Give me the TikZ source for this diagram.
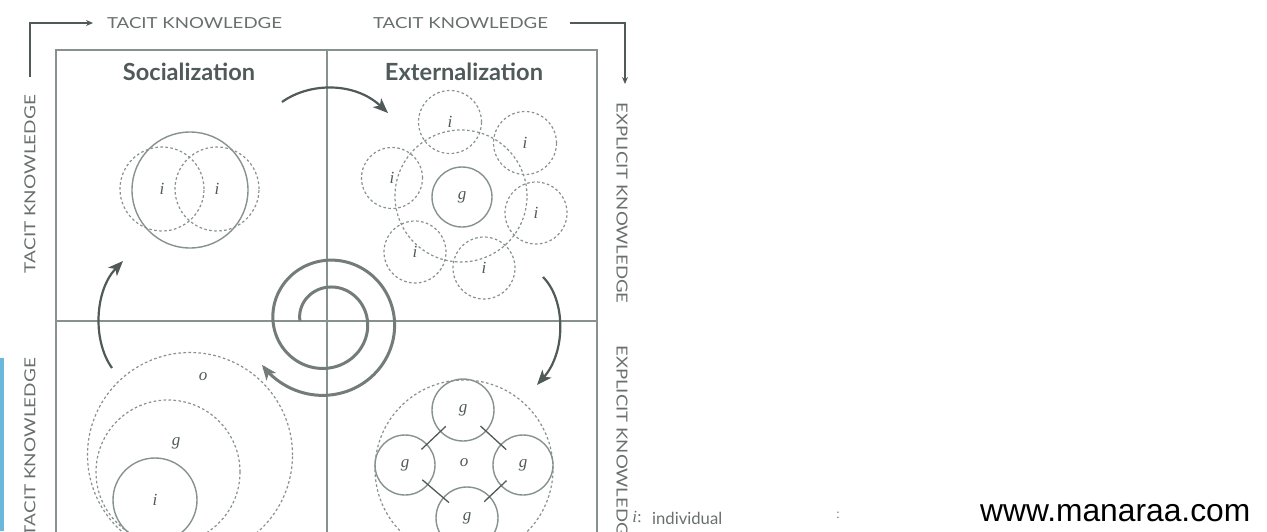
\documentclass[tikz,border=0pt]{standalone}
\usepackage{fontspec}
\newfontfamily\lato{Lato}
\newfontfamily\arialf{Liberation Sans}
\newfontfamily\serifl{Liberation Serif}
\usetikzlibrary{arrows.meta}
\definecolor{ln}{RGB}{135,146,143}
\definecolor{dk}{RGB}{80,90,88}
\definecolor{tx}{RGB}{105,111,110}
\definecolor{blu}{RGB}{108,184,220}
\begin{document}
\begin{tikzpicture}[x=1pt,y=-1pt,
  frame/.style={draw=ln, line width=1.4pt},
  bracket/.style={draw=dk, line width=1.7pt, -{Stealth[length=7pt,width=6pt]}},
  flow/.style={draw=dk, line width=2.2pt, -{Stealth[length=15pt,width=12pt,inset=4pt]}},
  lfont/.style={font=\serifl\fontsize{17}{17}\selectfont\itshape, text=dk},
  dcirc/.style={circle, draw=ln, line width=1.2pt, dash pattern=on 2.6pt off 2.4pt, inner sep=0pt, lfont},
  scirc/.style={circle, draw=ln, line width=1.4pt, inner sep=0pt, lfont},
  lab/.style={inner sep=0pt, lfont},
  axis/.style={inner sep=0pt, font=\lato, text=tx},
  head/.style={inner sep=0pt, font=\lato\bfseries, text=dk},
  link/.style={draw=dk, line width=1.3pt, shorten <=-8pt, shorten >=-8pt}
]
\useasboundingbox (0,0) rectangle (1267,531);
\fill[white] (0,0) rectangle (1267,531);
% blue bar
\fill[blu] (0,358) rectangle (4,531);

% frame
\draw[frame] (56,540) -- (56,50) -- (597,50) -- (597,540);
\draw[frame] (327,50) -- (327,540);
\draw[frame] (56,321) -- (597,321);

% outer labels
\node[axis] (tl) at (194.5,23) {\resizebox{175pt}{11pt}{TACIT KNOWLEDGE}};
\node[axis] (tr) at (460.5,23) {\resizebox{175pt}{11pt}{TACIT KNOWLEDGE}};
\node[axis, rotate=90] (l1) at (30,184) {\resizebox{178pt}{11pt}{TACIT KNOWLEDGE}};
\node[axis, rotate=90] (l2) at (30,447) {\resizebox{178pt}{11pt}{TACIT KNOWLEDGE}};
\node[axis, rotate=-90] (r1) at (622,203) {\resizebox{201pt}{11pt}{EXPLICIT KNOWLEDGE}};
\node[axis, rotate=-90] (r2) at (622,446) {\resizebox{201pt}{11pt}{EXPLICIT KNOWLEDGE}};

% brackets
\coordinate (b1) at (30,77);
\coordinate (b1c) at (30,23);
\coordinate (b1e) at (93,23);
\draw[bracket] (b1) -- (b1c) -- (b1e);
\coordinate (b2) at (570,23);
\coordinate (b2c) at (625,23);
\coordinate (b2e) at (625,84);
\draw[bracket] (b2) -- (b2c) -- (b2e);

% headings
\node[head] (soc) at (189,72) {\resizebox{132pt}{!}{Socialization}};
\node[head] (ext) at (464,72) {\resizebox{158pt}{!}{Externalization}};

% Socialization circles
\node[scirc, minimum size=116pt] (sg) at (190,190) {};
\node[dcirc, minimum size=84pt] (s1) at (162,189) {i};
\node[dcirc, minimum size=84pt] (s2) at (217,189) {i};

% Externalization circles
\node[dcirc, minimum size=132pt] (eg) at (461,196) {};
\node[scirc, minimum size=60pt] (eg0) at (462,197) {g};
\node[dcirc, minimum size=63pt] (e1) at (450,122) {i};
\node[dcirc, minimum size=63pt] (e2) at (525,143) {i};
\node[dcirc, minimum size=61pt] (e3) at (392,178) {i};
\node[dcirc, minimum size=62pt] (e4) at (536,213) {i};
\node[dcirc, minimum size=62pt] (e5) at (415,252) {i};
\node[dcirc, minimum size=62pt] (e6) at (484,268) {i};

% Internalization circles (bottom left)
\node[dcirc, minimum size=205pt] (io) at (190,455) {};
\node[lab] (iol) at (203,377) {o};
\node[dcirc, minimum size=144pt] (ig) at (168,472) {};
\node[lab] (igl) at (176,443) {g};
\node[scirc, minimum size=84pt] (ii) at (155,500) {i};

% Combination circles (bottom right)
\node[dcirc, minimum size=178pt] (co) at (464,469) {};
\node[lab] (col) at (464,463) {o};
\node[scirc, minimum size=62pt] (cg1) at (463,410) {g};
\node[scirc, minimum size=60pt] (cg2) at (405,465) {g};
\node[scirc, minimum size=60pt] (cg3) at (523,465) {g};
\node[scirc, minimum size=62pt] (cg4) at (467,518) {g};
\draw[link] (cg1) -- (cg2);
\draw[link] (cg1) -- (cg3);
\draw[link] (cg2) -- (cg4);
\draw[link] (cg3) -- (cg4);

% flow arrows
\coordinate (a1s) at (282,102);
\coordinate (a1e) at (388,113);
\draw[flow] (a1s) .. controls (310,82) and (355,82) .. (a1e);
\coordinate (a2s) at (543,277);
\coordinate (a2e) at (537,385);
\draw[flow] (a2s) .. controls (566,300) and (566,352) .. (a2e);
\coordinate (a3s) at (112,368);
\coordinate (a3e) at (123,261);
\draw[flow] (a3s) .. controls (92,340) and (95,290) .. (a3e);

% spiral
\draw[draw=ln!85!black, line width=3pt, -{Stealth[length=15pt,width=12pt,inset=4pt]}]
  plot[domain=180:866, samples=220, smooth]
  ({327+(27+0.075*(\x-180))*cos(\x)}, {321+(27+0.075*(\x-180))*sin(\x)});

% legend
\node[lab, text=tx] (leg1) at (637,517) {i\upshape:};
\node[axis, anchor=west] (leg2) at (652,518) {\resizebox{70pt}{!}{individual}};
\node[inner sep=0pt, text=dk, font=\arialf\fontsize{12}{12}\selectfont] (leg3) at (838,515) {:};
\node[inner sep=0pt, font=\arialf, text=black, anchor=west] (web) at (980,513) {\resizebox{270pt}{!}{www.manaraa.com}};
\end{tikzpicture}
\end{document}
